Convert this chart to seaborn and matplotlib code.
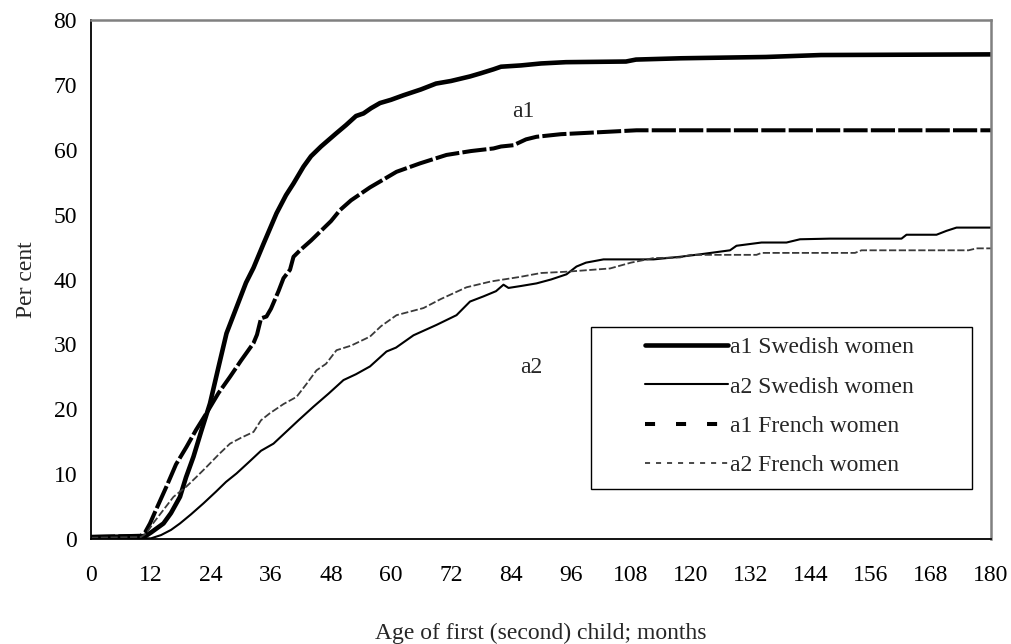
import numpy as np
import pandas as pd
import matplotlib
matplotlib.use("Agg")
import matplotlib.pyplot as plt
from matplotlib.patches import Rectangle
from matplotlib.lines import Line2D
import seaborn as sns

# Cumulative share (%) having a child, by age of the previous child (months)
a1_swe_months = [0, 10, 11, 12, 14.5, 16, 17.8, 19, 20.5, 22, 23.8, 25.5, 27.1, 29, 31,
                 32.5, 34.5, 37.1, 39, 40.5, 42.5, 44, 46, 49, 51, 53, 54.5, 56, 57.8,
                 60, 62.5, 66, 69, 72, 75.8, 78, 80.5, 82, 86, 90, 95, 107, 109, 118,
                 135, 146, 180]
a1_swe_pct = [0.3, 0.4, 0.5, 1.0, 2.4, 4.0, 6.5, 9.5, 12.7, 16.5, 20.9, 26.5, 31.7, 35.5,
              39.5, 41.8, 45.5, 50.2, 53.0, 54.8, 57.4, 59.0, 60.5, 62.5, 63.8, 65.2,
              65.6, 66.4, 67.2, 67.7, 68.4, 69.3, 70.2, 70.6, 71.3, 71.8, 72.4, 72.8,
              73.0, 73.3, 73.5, 73.6, 73.9, 74.1, 74.3, 74.6, 74.7]

a2_swe_months = [0, 10, 12, 14, 16, 17.8, 20, 22.5, 25, 27, 29.1, 31.5, 34, 36.5, 39,
                 41.5, 44.5, 47.5, 50.5, 53, 55.8, 59.1, 61, 64.5, 69.1, 73.1, 75.8,
                 78.5, 81, 82.5, 83.5, 86, 89.1, 92, 95.1, 97.1, 99, 102.5, 112.5,
                 117.8, 122, 127.8, 129.1, 134.1, 139.1, 141.8, 147.8, 162.1, 163.1,
                 169.1, 171.1, 173.1, 180]
a2_swe_pct = [0.1, 0.1, 0.1, 0.6, 1.4, 2.4, 3.8, 5.5, 7.3, 8.8, 10.1, 11.8, 13.6, 14.7,
              16.5, 18.3, 20.4, 22.4, 24.5, 25.4, 26.6, 28.9, 29.5, 31.4, 33.0, 34.5,
              36.6, 37.4, 38.2, 39.2, 38.7, 39.0, 39.4, 40.0, 40.8, 42.0, 42.6, 43.1,
              43.1, 43.5, 43.9, 44.5, 45.2, 45.7, 45.7, 46.2, 46.3, 46.3, 46.9, 46.9,
              47.5, 48.0, 48.0]

a1_fra_months = [0, 10, 10.8, 11.8, 13, 15.1, 17, 19.1, 21, 23.1, 25.5, 27.8, 30, 32.5,
                 33.2, 34, 35.1, 36, 37.5, 38.5, 39.8, 40.5, 41.8, 44, 46, 48, 49.8, 52,
                 55.8, 57.8, 61.1, 65.8, 71.1, 76, 80.5, 82, 84.5, 87, 89.1, 94, 99.1,
                 109.1, 180]
a1_fra_pct = [0.3, 0.5, 1.0, 2.4, 4.5, 8.1, 11.5, 14.2, 16.8, 19.4, 22.5, 25.0, 27.5,
              30.2, 31.5, 34.0, 34.3, 35.5, 38.2, 40.2, 41.5, 43.5, 44.5, 46.0, 47.5,
              49.0, 50.7, 52.2, 54.2, 55.1, 56.6, 57.9, 59.2, 59.8, 60.2, 60.5, 60.7,
              61.6, 62.0, 62.4, 62.6, 63.0, 63.0]

a2_fra_months = [0, 10, 11.1, 12.5, 14.5, 16.5, 19.1, 21, 23.1, 25.5, 27.8, 30, 32.5, 34,
                 35.8, 38.5, 41.1, 43, 45.1, 47, 49.1, 52, 55.8, 58, 61.1, 66.5, 70,
                 75.1, 80, 85.8, 90, 95.1, 103.8, 108, 112.5, 117.8, 120, 133.1, 134.1,
                 152.8, 154.1, 175.5, 177.1, 180]
a2_fra_pct = [0.2, 0.3, 0.9, 2.5, 4.5, 6.5, 8.1, 9.5, 11.1, 13.0, 14.7, 15.6, 16.5, 18.3,
              19.4, 20.8, 21.9, 23.8, 26.0, 27.0, 29.1, 29.8, 31.2, 32.8, 34.5, 35.6,
              37.0, 38.8, 39.7, 40.4, 41.0, 41.2, 41.7, 42.6, 43.3, 43.4, 43.8, 43.8,
              44.1, 44.1, 44.5, 44.5, 44.8, 44.8]

series_labels = ["a1 Swedish women", "a2 Swedish women", "a1 French women", "a2 French women"]
x_ticks = list(range(0, 181, 12))
y_ticks = list(range(0, 81, 10))

FS = 17

sns.set_theme(style="white")
plt.rcParams["font.family"] = ["Liberation Serif", "DejaVu Serif"]
plt.rcParams["font.size"] = FS

fig = plt.figure(figsize=(10.11, 6.44), dpi=100)
ax = fig.add_axes([91 / 1011, 1 - 539 / 644, 900 / 1011, 519 / 644])

# line styles: colour, width (pt), dash pattern used in the plot, dash pattern in the key
styles = {
    "a1 Swedish women": dict(color="black", lw=3.3, ls="-", key_ls="-"),
    "a2 Swedish women": dict(color="black", lw=1.5, ls="-", key_ls="-"),
    "a1 French women": dict(color="black", lw=2.9, ls=(0, (6, 0.8)), key_ls=(0, (2.5, 5.2))),
    "a2 French women": dict(color="#3a3a3a", lw=1.3, ls=(0, (4, 1.4)), key_ls=(0, (2.8, 3.3))),
}

frames = {
    "a1 Swedish women": (a1_swe_months, a1_swe_pct),
    "a2 Swedish women": (a2_swe_months, a2_swe_pct),
    "a1 French women": (a1_fra_months, a1_fra_pct),
    "a2 French women": (a2_fra_months, a2_fra_pct),
}

handles = []
for name in series_labels:
    xs, ys = frames[name]
    st = styles[name]
    df = pd.DataFrame({"month": xs, "pct": ys})
    sns.lineplot(data=df, x="month", y="pct", ax=ax, color=st["color"],
                 linewidth=st["lw"], linestyle=st["ls"], estimator=None,
                 legend=False, solid_joinstyle="round", dash_joinstyle="round")
    handles.append(Line2D([], [], color=st["color"], linewidth=st["lw"],
                          linestyle=st["key_ls"], dash_capstyle="butt"))

ax.set_xlim(0, 180)
ax.set_ylim(0, 80)
ax.set_xticks(x_ticks)
ax.set_yticks(y_ticks)
ax.tick_params(axis="both", direction="inout", length=10, width=1.0, colors="black",
               labelsize=FS)
ax.tick_params(axis="x", pad=14)
ax.tick_params(axis="y", pad=5)

for side in ("left", "bottom"):
    ax.spines[side].set_color("black")
    ax.spines[side].set_linewidth(1.3)
for side in ("top", "right"):
    ax.spines[side].set_color("#808080")
    ax.spines[side].set_linewidth(1.8)
    ax.spines[side].set_visible(True)

ax.set_xlabel("Age of first (second) child; months", fontsize=FS, labelpad=26)
ax.set_ylabel("Per cent", fontsize=FS, labelpad=12)

ax.text(86.4, 65.9, "a1", fontsize=FS, ha="center", va="center")
ax.text(88.0, 26.5, "a2", fontsize=FS, ha="center", va="center")

# framed key box
ax.add_patch(Rectangle((500 / 900, 50 / 519), 381 / 900, 162 / 519, transform=ax.transAxes,
                       facecolor="white", edgecolor="black", linewidth=1.0, zorder=4))
leg = ax.legend(handles, series_labels, loc="center left",
                bbox_to_anchor=((645 - 91) / 900, (539 - 406.5) / 519),
                frameon=False, borderpad=0, borderaxespad=0, handlelength=3.5,
                handletextpad=0.1, labelspacing=0.76, fontsize=FS)
leg.set_zorder(5)

fig.savefig("out.png", dpi=100)
